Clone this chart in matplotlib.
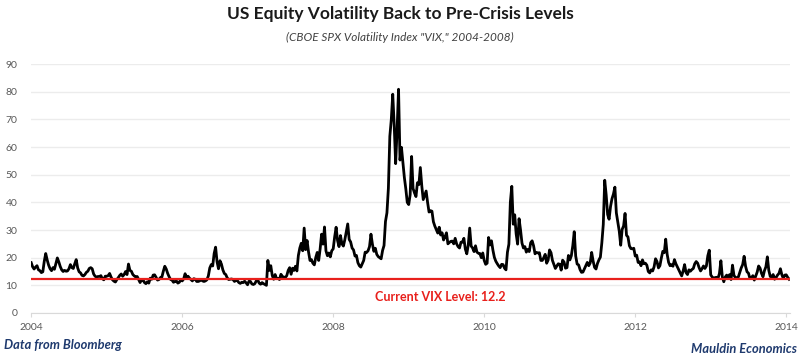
import numpy as np
import matplotlib
matplotlib.use("Agg")
import matplotlib.pyplot as plt

# Weekly VIX closes (52 per year)
vix_2004 = [18.2, 16.7, 15.9, 16.6, 17.1, 15.6, 15.3, 14.6, 14.9, 18.7, 21.5, 19.2, 17.3,
            16.0, 15.3, 16.4, 15.8, 17.9, 19.9, 18.5, 16.8, 15.6, 15.0, 15.4, 15.1,
            15.2, 16.0, 17.5, 16.4, 16.1, 17.8, 19.3, 16.3, 14.9, 14.5, 13.6, 13.4, 13.9,
            14.7, 15.1, 16.1, 16.4, 16.0, 14.1, 13.3, 13.0, 13.2, 13.2, 13.5, 12.4, 12.0, 13.3]
vix_2005 = [13.3, 13.5, 14.3, 13.0, 12.0, 11.5, 11.2, 12.1, 12.8, 13.6, 14.1, 13.3, 13.9,
            15.0, 13.9, 17.7, 15.4, 15.1, 13.9, 13.4, 13.0, 13.2, 12.1, 11.0, 12.0,
            12.0, 11.0, 10.6, 11.3, 10.8, 12.6, 12.2, 13.7, 13.8, 12.9, 11.9, 12.1, 12.8,
            13.0, 15.1, 16.9, 15.9, 14.3, 13.1, 12.1, 11.9, 11.1, 11.4, 11.6, 10.8, 11.1, 12.1]
vix_2006 = [11.6, 12.3, 14.2, 12.6, 13.3, 12.6, 12.1, 11.6, 12.4, 12.2, 11.4, 11.4, 11.6,
            12.0, 11.6, 11.4, 11.6, 12.0, 13.4, 16.3, 17.5, 17.0, 21.5, 23.8, 18.5,
            16.0, 18.9, 17.7, 15.6, 14.3, 13.9, 12.7, 12.1, 12.2, 12.3, 12.1, 11.4, 11.8,
            11.7, 11.0, 10.7, 11.1, 11.0, 11.5, 10.9, 10.2, 11.5, 11.4, 10.5, 10.3, 10.6, 11.6]
vix_2007 = [12.0, 10.8, 10.4, 11.0, 10.6, 10.3, 10.0, 19.0, 15.4, 17.1, 13.6, 12.2, 13.9,
            12.4, 12.5, 12.1, 14.0, 13.2, 13.0, 12.8, 13.5, 15.4, 16.4, 14.0, 16.2,
            15.4, 16.9, 15.2, 20.8, 23.5, 25.2, 22.5, 30.7, 22.9, 26.2, 22.1, 19.0, 19.3,
            18.0, 17.4, 20.1, 21.9, 19.0, 23.2, 28.5, 24.9, 31.1, 22.5, 20.7, 21.7, 20.3, 22.5]
vix_2008 = [23.2, 27.5, 31.0, 26.2, 24.0, 28.0, 25.0, 24.2, 26.5, 29.4, 32.2, 26.6, 25.7,
            23.5, 22.8, 20.6, 20.8, 18.2, 17.1, 16.6, 17.8, 19.0, 22.0, 21.9, 22.5,
            24.0, 28.5, 24.9, 22.3, 23.4, 21.2, 20.4, 20.0, 19.6, 22.6, 24.4, 33.1, 36.2,
            45.1, 63.9, 69.9, 79.1, 68.0, 54.0, 66.3, 80.9, 55.3, 59.9, 54.3, 49.0, 44.9, 40.0]
vix_2009 = [39.2, 42.8, 56.6, 45.0, 43.4, 42.1, 47.1, 46.4, 52.6, 46.0, 41.0, 42.5, 44.1,
            40.0, 36.5, 37.0, 36.8, 33.0, 31.4, 30.2, 28.9, 31.0, 28.2, 29.0, 26.4,
            27.5, 29.0, 25.0, 25.5, 25.9, 26.0, 25.0, 27.0, 25.0, 24.0, 23.5, 25.6, 25.6,
            27.0, 23.1, 21.4, 24.5, 30.7, 24.2, 23.5, 22.2, 24.3, 22.0, 21.6, 21.5, 20.0, 21.7]
vix_2010 = [19.0, 17.6, 18.0, 27.3, 24.6, 26.1, 22.7, 20.1, 18.7, 17.8, 17.0, 16.4, 17.6,
            17.5, 16.2, 15.6, 22.0, 24.9, 40.1, 45.8, 32.1, 35.5, 28.6, 24.9, 34.1,
            30.1, 25.3, 23.5, 24.0, 22.0, 23.0, 22.2, 25.4, 26.1, 24.3, 21.4, 21.9, 21.7,
            21.8, 19.0, 19.0, 20.0, 21.2, 18.0, 19.1, 22.8, 21.8, 19.0, 17.6, 16.1, 17.0, 17.8]
vix_2011 = [17.6, 15.5, 19.1, 18.4, 16.2, 16.4, 20.8, 19.2, 20.7, 24.3, 29.4, 20.6, 17.7,
            17.4, 15.7, 14.7, 14.8, 16.0, 17.3, 18.3, 17.1, 18.1, 21.9, 18.8, 16.5,
            15.9, 17.9, 19.2, 20.2, 25.3, 32.0, 48.0, 42.7, 35.6, 33.9, 38.5, 41.3, 43.0,
            45.5, 36.2, 33.0, 29.6, 24.5, 30.2, 31.5, 36.0, 28.1, 27.5, 24.3, 23.3, 23.2, 23.4]
vix_2012 = [20.6, 20.9, 18.3, 18.5, 17.1, 19.2, 17.8, 18.0, 17.3, 15.0, 14.5, 15.6, 15.2,
            16.7, 19.6, 18.6, 16.3, 17.1, 19.9, 22.3, 21.8, 26.7, 21.2, 18.3, 17.1,
            17.5, 16.9, 19.3, 17.8, 16.7, 15.6, 14.5, 13.4, 15.2, 17.5, 14.6, 13.9, 15.6,
            15.1, 15.7, 16.1, 17.8, 18.6, 18.0, 16.4, 15.2, 16.0, 17.0, 16.1, 17.0, 20.7, 22.7]
vix_2013 = [13.8, 13.0, 12.5, 12.8, 12.9, 12.5, 14.3, 18.9, 13.0, 11.3, 13.0, 13.7, 12.7,
            13.9, 12.1, 17.3, 13.6, 12.8, 12.6, 13.0, 14.6, 16.3, 17.5, 20.5, 16.9,
            14.9, 14.4, 12.5, 12.7, 13.5, 11.9, 13.4, 14.8, 17.0, 16.2, 14.3, 13.1, 15.3,
            16.7, 20.3, 15.4, 13.2, 13.1, 13.9, 12.2, 12.8, 13.7, 14.3, 16.0, 13.8, 12.5, 13.7]
vix_2014 = [13.8, 12.9, 12.2]

years = [2004, 2005, 2006, 2007, 2008, 2009, 2010, 2011, 2012, 2013, 2014]
series = [vix_2004, vix_2005, vix_2006, vix_2007, vix_2008, vix_2009,
          vix_2010, vix_2011, vix_2012, vix_2013, vix_2014]

current_vix = 12.2
x_ticks = [2004, 2006, 2008, 2010, 2012, 2014]
y_ticks = [0, 10, 20, 30, 40, 50, 60, 70, 80, 90]

x = np.concatenate([yr + np.arange(len(v)) / 52.0 for yr, v in zip(years, series)])
y = np.concatenate([np.asarray(v, dtype=float) for v in series])

plt.rcParams['font.family'] = ['Lato', 'DejaVu Sans']

fig = plt.figure(figsize=(8, 3.56), dpi=100)
ax = fig.add_axes([0.039, 0.1208, 0.9485, 0.6992])

ax.plot(x, y, color='black', lw=2.0, zorder=3, solid_joinstyle='round')
ax.axhline(current_vix, color='#e8201c', lw=1.6, zorder=4)

ax.set_xlim(2004, 2014.05)
ax.set_ylim(0, 90)
ax.set_xticks(x_ticks)
ax.set_xticklabels([str(t) for t in x_ticks])
ax.set_yticks(y_ticks)
ax.yaxis.grid(True, color='#ececec', lw=1)
ax.set_axisbelow(True)
for s in ['top', 'right', 'left']:
    ax.spines[s].set_visible(False)
ax.spines['bottom'].set_color('#d9d9d9')
ax.tick_params(axis='y', length=0, labelsize=7.5, colors='#595959', pad=10)
ax.tick_params(axis='x', length=3, color='#d9d9d9', labelsize=7.5, colors='#595959', pad=4)

ax.text(2009.42, 5.7, 'Current VIX Level: 12.2', color='#e8201c', fontsize=9,
        fontweight='bold', ha='center', va='center')

fig.text(0.5, 1 - 14 / 356, 'US Equity Volatility Back to Pre-Crisis Levels',
         ha='center', va='center', fontsize=12.5, fontweight='bold', color='#1a1a1a')
fig.text(0.5, 1 - 37 / 356, '(CBOE SPX Volatility Index "VIX," 2004-2008)',
         ha='center', va='center', fontsize=8.5, style='italic', color='#404040')
fig.text(4 / 800, 1 - 345 / 356, 'Data from Bloomberg', ha='left', va='center',
         fontsize=9.3, fontweight='bold', style='italic', color='#1f3a6e')
fig.text(797 / 800, 1 - 349 / 356, 'Mauldin Economics', ha='right', va='center',
         fontsize=9.3, fontweight='bold', style='italic', color='#1f3a6e')

fig.savefig('out.png', dpi=100)
